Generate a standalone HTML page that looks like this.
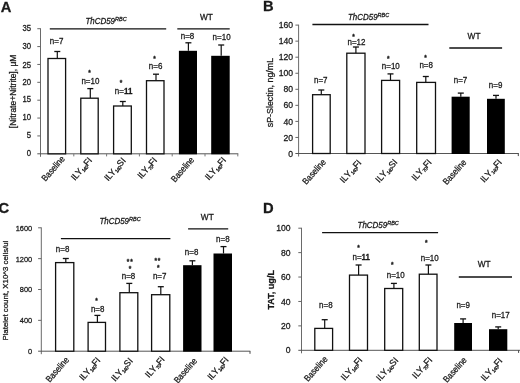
<!DOCTYPE html>
<html><head><meta charset="utf-8"><title>Figure</title>
<style>
html,body{margin:0;padding:0;background:#fff;}
svg{display:block;filter:blur(0.4px);}
text{font-family:"Liberation Sans",sans-serif;fill:#1a1a1a;stroke:#1a1a1a;stroke-width:0.28px;}
</style></head>
<body>
<svg width="520" height="383" viewBox="0 0 520 383">
<rect x="0" y="0" width="520" height="383" fill="#fff"/>
<text transform="translate(0.70 11.70) scale(0.97 1)" text-anchor="start" font-size="15.2" font-weight="bold" fill="#000" stroke="#000" stroke-width="0.5">A</text>
<line x1="40.50" y1="28.31" x2="40.50" y2="156.80" stroke="#6a6a6a" stroke-width="1.0"/>
<line x1="37.30" y1="153.80" x2="238.30" y2="153.80" stroke="#555" stroke-width="1.0"/>
<text transform="translate(31.00 156.45) scale(0.94 1)" text-anchor="end" font-size="8.2">0</text>
<line x1="37.30" y1="135.93" x2="40.50" y2="135.93" stroke="#666" stroke-width="1.0"/>
<text transform="translate(31.00 138.38) scale(0.94 1)" text-anchor="end" font-size="8.2">5</text>
<line x1="37.30" y1="118.06" x2="40.50" y2="118.06" stroke="#666" stroke-width="1.0"/>
<text transform="translate(31.00 119.91) scale(0.94 1)" text-anchor="end" font-size="8.2">10</text>
<line x1="37.30" y1="100.19" x2="40.50" y2="100.19" stroke="#666" stroke-width="1.0"/>
<text transform="translate(31.00 102.29) scale(0.94 1)" text-anchor="end" font-size="8.2">15</text>
<line x1="37.30" y1="82.32" x2="40.50" y2="82.32" stroke="#666" stroke-width="1.0"/>
<text transform="translate(31.00 85.37) scale(0.94 1)" text-anchor="end" font-size="8.2">20</text>
<line x1="37.30" y1="64.45" x2="40.50" y2="64.45" stroke="#666" stroke-width="1.0"/>
<text transform="translate(31.00 67.50) scale(0.94 1)" text-anchor="end" font-size="8.2">25</text>
<line x1="37.30" y1="46.58" x2="40.50" y2="46.58" stroke="#666" stroke-width="1.0"/>
<text transform="translate(31.00 48.83) scale(0.94 1)" text-anchor="end" font-size="8.2">30</text>
<line x1="37.30" y1="28.71" x2="40.50" y2="28.71" stroke="#666" stroke-width="1.0"/>
<text transform="translate(31.00 30.56) scale(0.94 1)" text-anchor="end" font-size="8.2">35</text>
<line x1="73.80" y1="153.80" x2="73.80" y2="156.40" stroke="#777" stroke-width="1.0"/>
<line x1="106.60" y1="153.80" x2="106.60" y2="156.40" stroke="#777" stroke-width="1.0"/>
<line x1="139.40" y1="153.80" x2="139.40" y2="156.40" stroke="#777" stroke-width="1.0"/>
<line x1="172.20" y1="153.80" x2="172.20" y2="156.40" stroke="#777" stroke-width="1.0"/>
<line x1="205.00" y1="153.80" x2="205.00" y2="156.40" stroke="#777" stroke-width="1.0"/>
<line x1="237.80" y1="153.80" x2="237.80" y2="156.40" stroke="#777" stroke-width="1.0"/>
<text transform="translate(15.80 128.20) rotate(-90)" text-anchor="start" font-size="8.5">[Nitrate+Nitrite], μM</text>
<line x1="57.30" y1="58.50" x2="57.30" y2="51.50" stroke="#111" stroke-width="1.2"/>
<line x1="54.30" y1="51.50" x2="60.30" y2="51.50" stroke="#111" stroke-width="1.3"/>
<rect x="48.00" y="58.50" width="17.60" height="95.30" fill="#fff" stroke="#111" stroke-width="1.3"/>
<text transform="translate(65.30 159.20) rotate(-49) scale(0.87 1)" text-anchor="end" font-size="9.0">Baseline</text>
<line x1="90.30" y1="98.20" x2="90.30" y2="88.60" stroke="#111" stroke-width="1.2"/>
<line x1="87.30" y1="88.60" x2="93.30" y2="88.60" stroke="#111" stroke-width="1.3"/>
<rect x="80.80" y="98.20" width="17.40" height="55.60" fill="#fff" stroke="#111" stroke-width="1.3"/>
<text transform="translate(92.50 160.80) rotate(-49) scale(0.96 1)" text-anchor="end" font-size="9.0">ILY<tspan font-size="5.0" letter-spacing="-0.4" dy="1.3">140</tspan><tspan dy="-1.3">FI</tspan></text>
<line x1="122.80" y1="106.00" x2="122.80" y2="101.50" stroke="#111" stroke-width="1.2"/>
<line x1="119.80" y1="101.50" x2="125.80" y2="101.50" stroke="#111" stroke-width="1.3"/>
<rect x="113.60" y="106.00" width="17.70" height="47.80" fill="#fff" stroke="#111" stroke-width="1.3"/>
<text transform="translate(126.20 161.00) rotate(-49) scale(0.96 1)" text-anchor="end" font-size="9.0">ILY<tspan font-size="5.0" letter-spacing="-0.4" dy="1.3">140</tspan><tspan dy="-1.3">SI</tspan></text>
<line x1="156.00" y1="80.70" x2="156.00" y2="74.20" stroke="#111" stroke-width="1.2"/>
<line x1="153.00" y1="74.20" x2="159.00" y2="74.20" stroke="#111" stroke-width="1.3"/>
<rect x="146.50" y="80.70" width="17.50" height="73.10" fill="#fff" stroke="#111" stroke-width="1.3"/>
<text transform="translate(157.60 160.70) rotate(-49) scale(0.96 1)" text-anchor="end" font-size="9.0">ILY<tspan font-size="5.0" letter-spacing="-0.4" dy="1.3">70</tspan><tspan dy="-1.3">FI</tspan></text>
<line x1="188.40" y1="50.80" x2="188.40" y2="42.80" stroke="#111" stroke-width="1.2"/>
<line x1="185.40" y1="42.80" x2="191.40" y2="42.80" stroke="#111" stroke-width="1.3"/>
<rect x="178.90" y="50.80" width="18.10" height="103.50" fill="#000"/>
<text transform="translate(194.70 160.10) rotate(-49) scale(0.87 1)" text-anchor="end" font-size="9.0">Baseline</text>
<line x1="221.20" y1="55.80" x2="221.20" y2="45.00" stroke="#111" stroke-width="1.2"/>
<line x1="218.20" y1="45.00" x2="224.20" y2="45.00" stroke="#111" stroke-width="1.3"/>
<rect x="211.20" y="55.80" width="18.50" height="98.50" fill="#000"/>
<text transform="translate(226.50 160.50) rotate(-49) scale(0.96 1)" text-anchor="end" font-size="9.0">ILY<tspan font-size="5.0" letter-spacing="-0.4" dy="1.3">140</tspan><tspan dy="-1.3">FI</tspan></text>
<text transform="translate(49.80 43.70) scale(0.95 1)" text-anchor="start" font-size="8.4">n=7</text>
<text transform="translate(81.40 83.60) scale(0.95 1)" text-anchor="start" font-size="8.4">n=10</text>
<text transform="translate(89.40 75.20)" text-anchor="middle" font-size="6.5" font-weight="bold">*</text>
<text transform="translate(114.80 93.60) scale(0.95 1)" text-anchor="start" font-size="8.4">n=<tspan font-weight="bold">11</tspan></text>
<text transform="translate(121.00 85.40)" text-anchor="middle" font-size="6.5" font-weight="bold">*</text>
<text transform="translate(148.80 68.90) scale(0.95 1)" text-anchor="start" font-size="8.4">n=6</text>
<text transform="translate(154.40 61.20)" text-anchor="middle" font-size="6.5" font-weight="bold">*</text>
<text transform="translate(180.70 39.20) scale(0.95 1)" text-anchor="start" font-size="8.4">n=8</text>
<text transform="translate(212.60 40.40) scale(0.95 1)" text-anchor="start" font-size="8.4">n=10</text>
<line x1="49.80" y1="28.80" x2="166.20" y2="28.80" stroke="#111" stroke-width="1.3"/>
<line x1="177.30" y1="28.80" x2="229.70" y2="28.80" stroke="#111" stroke-width="1.3"/>
<text transform="translate(85.40 23.50) scale(0.97 1)" text-anchor="start" font-size="8.2" font-style="italic">ThCD59<tspan font-size="5.7" dy="-2.8">RBC</tspan></text>
<text transform="translate(200.00 19.90)" text-anchor="start" font-size="8.3">WT</text>
<text transform="translate(263.00 10.70) scale(0.97 1)" text-anchor="start" font-size="15.2" font-weight="bold" fill="#000" stroke="#000" stroke-width="0.5">B</text>
<line x1="298.60" y1="24.70" x2="298.60" y2="156.50" stroke="#6a6a6a" stroke-width="1.0"/>
<line x1="295.40" y1="153.50" x2="518.80" y2="153.50" stroke="#555" stroke-width="1.0"/>
<text transform="translate(293.00 156.60)" text-anchor="end" font-size="8.6">0</text>
<line x1="295.40" y1="137.45" x2="298.60" y2="137.45" stroke="#666" stroke-width="1.0"/>
<text transform="translate(293.00 140.55)" text-anchor="end" font-size="8.6">20</text>
<line x1="295.40" y1="121.40" x2="298.60" y2="121.40" stroke="#666" stroke-width="1.0"/>
<text transform="translate(293.00 124.50)" text-anchor="end" font-size="8.6">40</text>
<line x1="295.40" y1="105.35" x2="298.60" y2="105.35" stroke="#666" stroke-width="1.0"/>
<text transform="translate(293.00 108.45)" text-anchor="end" font-size="8.6">60</text>
<line x1="295.40" y1="89.30" x2="298.60" y2="89.30" stroke="#666" stroke-width="1.0"/>
<text transform="translate(293.00 92.40)" text-anchor="end" font-size="8.6">80</text>
<line x1="295.40" y1="73.25" x2="298.60" y2="73.25" stroke="#666" stroke-width="1.0"/>
<text transform="translate(293.00 76.35)" text-anchor="end" font-size="8.6">100</text>
<line x1="295.40" y1="57.20" x2="298.60" y2="57.20" stroke="#666" stroke-width="1.0"/>
<text transform="translate(293.00 60.30)" text-anchor="end" font-size="8.6">120</text>
<line x1="295.40" y1="41.15" x2="298.60" y2="41.15" stroke="#666" stroke-width="1.0"/>
<text transform="translate(293.00 44.25)" text-anchor="end" font-size="8.6">140</text>
<line x1="295.40" y1="25.10" x2="298.60" y2="25.10" stroke="#666" stroke-width="1.0"/>
<text transform="translate(293.00 28.20)" text-anchor="end" font-size="8.6">160</text>
<line x1="518.30" y1="153.50" x2="518.30" y2="156.10" stroke="#444" stroke-width="1.0"/>
<text transform="translate(273.20 127.20) rotate(-90)" text-anchor="start" font-size="8.85">sP-Slectin, ng/mL</text>
<line x1="321.30" y1="94.70" x2="321.30" y2="90.00" stroke="#111" stroke-width="1.2"/>
<line x1="318.30" y1="90.00" x2="324.30" y2="90.00" stroke="#111" stroke-width="1.3"/>
<rect x="312.60" y="94.70" width="17.60" height="58.80" fill="#fff" stroke="#111" stroke-width="1.3"/>
<text transform="translate(326.50 162.50) rotate(-48) scale(0.88 1)" text-anchor="end" font-size="9.0">Baseline</text>
<line x1="355.90" y1="53.20" x2="355.90" y2="47.00" stroke="#111" stroke-width="1.2"/>
<line x1="352.90" y1="47.00" x2="358.90" y2="47.00" stroke="#111" stroke-width="1.3"/>
<rect x="346.80" y="53.20" width="18.20" height="100.30" fill="#fff" stroke="#111" stroke-width="1.3"/>
<text transform="translate(362.00 163.20) rotate(-48) scale(0.98 1)" text-anchor="end" font-size="9.0">ILY<tspan font-size="5.0" letter-spacing="-0.4" dy="1.3">140</tspan><tspan dy="-1.3">FI</tspan></text>
<line x1="390.50" y1="80.40" x2="390.50" y2="73.90" stroke="#111" stroke-width="1.2"/>
<line x1="387.50" y1="73.90" x2="393.50" y2="73.90" stroke="#111" stroke-width="1.3"/>
<rect x="381.60" y="80.40" width="18.00" height="73.10" fill="#fff" stroke="#111" stroke-width="1.3"/>
<text transform="translate(398.00 162.50) rotate(-48) scale(0.98 1)" text-anchor="end" font-size="9.0">ILY<tspan font-size="5.0" letter-spacing="-0.4" dy="1.3">140</tspan><tspan dy="-1.3">SI</tspan></text>
<line x1="425.80" y1="82.40" x2="425.80" y2="76.50" stroke="#111" stroke-width="1.2"/>
<line x1="422.80" y1="76.50" x2="428.80" y2="76.50" stroke="#111" stroke-width="1.3"/>
<rect x="416.70" y="82.40" width="18.80" height="71.10" fill="#fff" stroke="#111" stroke-width="1.3"/>
<text transform="translate(432.20 162.60) rotate(-48) scale(0.98 1)" text-anchor="end" font-size="9.0">ILY<tspan font-size="5.0" letter-spacing="-0.4" dy="1.3">70</tspan><tspan dy="-1.3">FI</tspan></text>
<line x1="460.80" y1="96.70" x2="460.80" y2="93.10" stroke="#111" stroke-width="1.2"/>
<line x1="457.80" y1="93.10" x2="463.80" y2="93.10" stroke="#111" stroke-width="1.3"/>
<rect x="451.60" y="96.70" width="18.10" height="57.30" fill="#000"/>
<text transform="translate(467.00 162.80) rotate(-48) scale(0.88 1)" text-anchor="end" font-size="9.0">Baseline</text>
<line x1="496.00" y1="98.80" x2="496.00" y2="95.40" stroke="#111" stroke-width="1.2"/>
<line x1="493.00" y1="95.40" x2="499.00" y2="95.40" stroke="#111" stroke-width="1.3"/>
<rect x="487.00" y="98.80" width="17.80" height="55.20" fill="#000"/>
<text transform="translate(502.50 162.60) rotate(-48) scale(0.98 1)" text-anchor="end" font-size="9.0">ILY<tspan font-size="5.0" letter-spacing="-0.4" dy="1.3">140</tspan><tspan dy="-1.3">FI</tspan></text>
<text transform="translate(314.00 82.70) scale(0.95 1)" text-anchor="start" font-size="8.4">n=7</text>
<text transform="translate(347.50 44.70) scale(0.95 1)" text-anchor="start" font-size="8.4">n=12</text>
<text transform="translate(353.60 38.50)" text-anchor="middle" font-size="6.5" font-weight="bold">*</text>
<text transform="translate(381.80 68.50) scale(0.95 1)" text-anchor="start" font-size="8.4">n=10</text>
<text transform="translate(388.20 60.70)" text-anchor="middle" font-size="6.5" font-weight="bold">*</text>
<text transform="translate(419.40 67.80) scale(0.95 1)" text-anchor="start" font-size="8.4">n=8</text>
<text transform="translate(425.50 60.40)" text-anchor="middle" font-size="6.5" font-weight="bold">*</text>
<text transform="translate(453.70 82.80) scale(0.95 1)" text-anchor="start" font-size="8.4">n=7</text>
<text transform="translate(488.80 88.20) scale(0.95 1)" text-anchor="start" font-size="8.4">n=9</text>
<line x1="312.40" y1="24.50" x2="428.50" y2="24.50" stroke="#111" stroke-width="1.3"/>
<line x1="449.30" y1="48.00" x2="502.10" y2="48.00" stroke="#111" stroke-width="1.3"/>
<text transform="translate(348.00 19.70) scale(0.97 1)" text-anchor="start" font-size="8.2" font-style="italic">ThCD59<tspan font-size="5.7" dy="-2.8">RBC</tspan></text>
<text transform="translate(467.60 38.80)" text-anchor="start" font-size="8.3">WT</text>
<text transform="translate(-1.50 212.70) scale(0.97 1)" text-anchor="start" font-size="15.2" font-weight="bold" fill="#000" stroke="#000" stroke-width="0.5">C</text>
<line x1="41.30" y1="227.40" x2="41.30" y2="354.20" stroke="#6a6a6a" stroke-width="1.0"/>
<line x1="38.10" y1="351.20" x2="250.30" y2="351.20" stroke="#555" stroke-width="1.0"/>
<text transform="translate(32.20 354.08) scale(0.93 1)" text-anchor="end" font-size="8.0">0</text>
<line x1="38.10" y1="320.35" x2="41.30" y2="320.35" stroke="#666" stroke-width="1.0"/>
<text transform="translate(32.20 323.23) scale(0.93 1)" text-anchor="end" font-size="8.0">400</text>
<line x1="38.10" y1="289.50" x2="41.30" y2="289.50" stroke="#666" stroke-width="1.0"/>
<text transform="translate(32.20 292.38) scale(0.93 1)" text-anchor="end" font-size="8.0">800</text>
<line x1="38.10" y1="258.65" x2="41.30" y2="258.65" stroke="#666" stroke-width="1.0"/>
<text transform="translate(32.20 261.53) scale(0.93 1)" text-anchor="end" font-size="8.0">1200</text>
<line x1="38.10" y1="227.80" x2="41.30" y2="227.80" stroke="#666" stroke-width="1.0"/>
<text transform="translate(32.20 230.68) scale(0.93 1)" text-anchor="end" font-size="8.0">1600</text>
<line x1="250.00" y1="351.20" x2="250.00" y2="353.80" stroke="#444" stroke-width="1.0"/>
<text transform="translate(7.80 340.60) rotate(-90)" text-anchor="start" font-size="7.85">Platelet count, X10^3 cells/ul</text>
<line x1="65.80" y1="262.60" x2="65.80" y2="258.50" stroke="#111" stroke-width="1.2"/>
<line x1="62.80" y1="258.50" x2="68.80" y2="258.50" stroke="#111" stroke-width="1.3"/>
<rect x="55.60" y="262.60" width="18.20" height="88.60" fill="#fff" stroke="#111" stroke-width="1.3"/>
<text transform="translate(69.50 360.20) rotate(-49) scale(0.87 1)" text-anchor="end" font-size="9.0">Baseline</text>
<line x1="97.40" y1="322.40" x2="97.40" y2="315.40" stroke="#111" stroke-width="1.2"/>
<line x1="94.40" y1="315.40" x2="100.40" y2="315.40" stroke="#111" stroke-width="1.3"/>
<rect x="88.10" y="322.40" width="17.40" height="28.80" fill="#fff" stroke="#111" stroke-width="1.3"/>
<text transform="translate(100.90 360.70) rotate(-49) scale(0.96 1)" text-anchor="end" font-size="9.0">ILY<tspan font-size="5.0" letter-spacing="-0.4" dy="1.3">140</tspan><tspan dy="-1.3">FI</tspan></text>
<line x1="129.30" y1="292.70" x2="129.30" y2="283.40" stroke="#111" stroke-width="1.2"/>
<line x1="126.30" y1="283.40" x2="132.30" y2="283.40" stroke="#111" stroke-width="1.3"/>
<rect x="119.90" y="292.70" width="17.90" height="58.50" fill="#fff" stroke="#111" stroke-width="1.3"/>
<text transform="translate(133.20 361.30) rotate(-49) scale(0.96 1)" text-anchor="end" font-size="9.0">ILY<tspan font-size="5.0" letter-spacing="-0.4" dy="1.3">140</tspan><tspan dy="-1.3">SI</tspan></text>
<line x1="160.80" y1="294.70" x2="160.80" y2="286.70" stroke="#111" stroke-width="1.2"/>
<line x1="157.80" y1="286.70" x2="163.80" y2="286.70" stroke="#111" stroke-width="1.3"/>
<rect x="151.60" y="294.70" width="18.20" height="56.50" fill="#fff" stroke="#111" stroke-width="1.3"/>
<text transform="translate(165.20 359.70) rotate(-49) scale(0.96 1)" text-anchor="end" font-size="9.0">ILY<tspan font-size="5.0" letter-spacing="-0.4" dy="1.3">70</tspan><tspan dy="-1.3">FI</tspan></text>
<line x1="192.40" y1="265.20" x2="192.40" y2="260.80" stroke="#111" stroke-width="1.2"/>
<line x1="189.40" y1="260.80" x2="195.40" y2="260.80" stroke="#111" stroke-width="1.3"/>
<rect x="183.10" y="265.20" width="18.40" height="86.50" fill="#000"/>
<text transform="translate(197.60 361.20) rotate(-49) scale(0.87 1)" text-anchor="end" font-size="9.0">Baseline</text>
<line x1="223.50" y1="253.50" x2="223.50" y2="246.60" stroke="#111" stroke-width="1.2"/>
<line x1="220.50" y1="246.60" x2="226.50" y2="246.60" stroke="#111" stroke-width="1.3"/>
<rect x="213.50" y="253.50" width="18.50" height="98.20" fill="#000"/>
<text transform="translate(229.00 360.30) rotate(-49) scale(0.96 1)" text-anchor="end" font-size="9.0">ILY<tspan font-size="5.0" letter-spacing="-0.4" dy="1.3">140</tspan><tspan dy="-1.3">FI</tspan></text>
<text transform="translate(55.80 252.20) scale(0.95 1)" text-anchor="start" font-size="8.4">n=8</text>
<text transform="translate(90.90 311.60) scale(0.95 1)" text-anchor="start" font-size="8.4">n=8</text>
<text transform="translate(96.50 302.80)" text-anchor="middle" font-size="6.5" font-weight="bold">*</text>
<text transform="translate(121.70 278.80) scale(0.95 1)" text-anchor="start" font-size="8.4">n=8</text>
<text transform="translate(130.10 270.60)" text-anchor="middle" font-size="6.5" font-weight="bold">*</text>
<text transform="translate(130.20 263.50)" text-anchor="middle" font-size="6.5" font-weight="bold" letter-spacing="0.9">**</text>
<text transform="translate(152.90 278.80) scale(0.95 1)" text-anchor="start" font-size="8.4">n=7</text>
<text transform="translate(158.20 270.20)" text-anchor="middle" font-size="6.5" font-weight="bold">*</text>
<text transform="translate(157.80 262.80)" text-anchor="middle" font-size="6.5" font-weight="bold" letter-spacing="0.9">**</text>
<text transform="translate(184.80 255.00) scale(0.95 1)" text-anchor="start" font-size="8.4">n=8</text>
<text transform="translate(216.10 241.50) scale(0.95 1)" text-anchor="start" font-size="8.4">n=8</text>
<line x1="60.90" y1="238.60" x2="170.40" y2="238.60" stroke="#111" stroke-width="1.3"/>
<line x1="188.10" y1="228.90" x2="228.20" y2="228.90" stroke="#111" stroke-width="1.3"/>
<text transform="translate(99.40 224.00) scale(0.97 1)" text-anchor="start" font-size="8.2" font-style="italic">ThCD59<tspan font-size="5.7" dy="-2.8">RBC</tspan></text>
<text transform="translate(200.80 219.70)" text-anchor="start" font-size="8.3">WT</text>
<text transform="translate(263.10 212.50) scale(0.97 1)" text-anchor="start" font-size="15.2" font-weight="bold" fill="#000" stroke="#000" stroke-width="0.5">D</text>
<line x1="301.50" y1="227.80" x2="301.50" y2="353.30" stroke="#6a6a6a" stroke-width="1.0"/>
<line x1="298.30" y1="350.30" x2="520.00" y2="350.30" stroke="#555" stroke-width="1.0"/>
<text transform="translate(290.50 353.40)" text-anchor="end" font-size="8.6">0</text>
<line x1="298.30" y1="325.88" x2="301.50" y2="325.88" stroke="#666" stroke-width="1.0"/>
<text transform="translate(290.50 328.98)" text-anchor="end" font-size="8.6">20</text>
<line x1="298.30" y1="301.46" x2="301.50" y2="301.46" stroke="#666" stroke-width="1.0"/>
<text transform="translate(290.50 304.56)" text-anchor="end" font-size="8.6">40</text>
<line x1="298.30" y1="277.04" x2="301.50" y2="277.04" stroke="#666" stroke-width="1.0"/>
<text transform="translate(290.50 280.14)" text-anchor="end" font-size="8.6">60</text>
<line x1="298.30" y1="252.62" x2="301.50" y2="252.62" stroke="#666" stroke-width="1.0"/>
<text transform="translate(290.50 255.72)" text-anchor="end" font-size="8.6">80</text>
<line x1="298.30" y1="228.20" x2="301.50" y2="228.20" stroke="#666" stroke-width="1.0"/>
<text transform="translate(290.50 231.30)" text-anchor="end" font-size="8.6">100</text>
<line x1="518.60" y1="350.30" x2="518.60" y2="352.90" stroke="#444" stroke-width="1.0"/>
<text transform="translate(273.80 309.60) rotate(-90)" text-anchor="start" font-size="9.1" font-weight="bold">TAT, ug/L</text>
<line x1="324.70" y1="328.40" x2="324.70" y2="319.70" stroke="#111" stroke-width="1.2"/>
<line x1="321.70" y1="319.70" x2="327.70" y2="319.70" stroke="#111" stroke-width="1.3"/>
<rect x="314.80" y="328.40" width="17.80" height="21.90" fill="#fff" stroke="#111" stroke-width="1.3"/>
<text transform="translate(328.20 359.50) rotate(-48) scale(0.88 1)" text-anchor="end" font-size="9.0">Baseline</text>
<line x1="358.60" y1="275.10" x2="358.60" y2="265.00" stroke="#111" stroke-width="1.2"/>
<line x1="355.60" y1="265.00" x2="361.60" y2="265.00" stroke="#111" stroke-width="1.3"/>
<rect x="349.50" y="275.10" width="18.00" height="75.20" fill="#fff" stroke="#111" stroke-width="1.3"/>
<text transform="translate(363.00 360.50) rotate(-48) scale(0.98 1)" text-anchor="end" font-size="9.0">ILY<tspan font-size="5.0" letter-spacing="-0.4" dy="1.3">140</tspan><tspan dy="-1.3">FI</tspan></text>
<line x1="393.90" y1="288.50" x2="393.90" y2="283.40" stroke="#111" stroke-width="1.2"/>
<line x1="390.90" y1="283.40" x2="396.90" y2="283.40" stroke="#111" stroke-width="1.3"/>
<rect x="384.70" y="288.50" width="18.00" height="61.80" fill="#fff" stroke="#111" stroke-width="1.3"/>
<text transform="translate(398.80 360.70) rotate(-48) scale(0.98 1)" text-anchor="end" font-size="9.0">ILY<tspan font-size="5.0" letter-spacing="-0.4" dy="1.3">140</tspan><tspan dy="-1.3">SI</tspan></text>
<line x1="428.40" y1="274.20" x2="428.40" y2="265.00" stroke="#111" stroke-width="1.2"/>
<line x1="425.40" y1="265.00" x2="431.40" y2="265.00" stroke="#111" stroke-width="1.3"/>
<rect x="419.30" y="274.20" width="17.70" height="76.10" fill="#fff" stroke="#111" stroke-width="1.3"/>
<text transform="translate(432.80 360.50) rotate(-48) scale(0.98 1)" text-anchor="end" font-size="9.0">ILY<tspan font-size="5.0" letter-spacing="-0.4" dy="1.3">70</tspan><tspan dy="-1.3">FI</tspan></text>
<line x1="463.10" y1="323.00" x2="463.10" y2="318.90" stroke="#111" stroke-width="1.2"/>
<line x1="460.10" y1="318.90" x2="466.10" y2="318.90" stroke="#111" stroke-width="1.3"/>
<rect x="454.20" y="323.00" width="17.80" height="27.80" fill="#000"/>
<text transform="translate(467.30 360.50) rotate(-48) scale(0.88 1)" text-anchor="end" font-size="9.0">Baseline</text>
<line x1="498.20" y1="329.20" x2="498.20" y2="326.90" stroke="#111" stroke-width="1.2"/>
<line x1="495.20" y1="326.90" x2="501.20" y2="326.90" stroke="#111" stroke-width="1.3"/>
<rect x="489.00" y="329.20" width="18.30" height="21.60" fill="#000"/>
<text transform="translate(503.00 361.20) rotate(-48) scale(0.98 1)" text-anchor="end" font-size="9.0">ILY<tspan font-size="5.0" letter-spacing="-0.4" dy="1.3">140</tspan><tspan dy="-1.3">FI</tspan></text>
<text transform="translate(319.10 308.20) scale(0.95 1)" text-anchor="start" font-size="8.4">n=8</text>
<text transform="translate(352.50 260.00) scale(0.95 1)" text-anchor="start" font-size="8.4">n=<tspan font-weight="bold">11</tspan></text>
<text transform="translate(358.60 250.20)" text-anchor="middle" font-size="6.5" font-weight="bold">*</text>
<text transform="translate(386.70 277.70) scale(0.95 1)" text-anchor="start" font-size="8.4">n=10</text>
<text transform="translate(392.30 266.80)" text-anchor="middle" font-size="6.5" font-weight="bold">*</text>
<text transform="translate(420.70 260.50) scale(0.95 1)" text-anchor="start" font-size="8.4">n=10</text>
<text transform="translate(426.30 244.50)" text-anchor="middle" font-size="6.5" font-weight="bold">*</text>
<text transform="translate(456.40 308.30) scale(0.95 1)" text-anchor="start" font-size="8.4">n=9</text>
<text transform="translate(491.70 317.60) scale(0.95 1)" text-anchor="start" font-size="8.4">n=17</text>
<line x1="322.10" y1="232.60" x2="438.10" y2="232.60" stroke="#111" stroke-width="1.3"/>
<line x1="458.80" y1="277.00" x2="512.00" y2="277.00" stroke="#111" stroke-width="1.3"/>
<text transform="translate(357.60 227.80) scale(0.97 1)" text-anchor="start" font-size="8.2" font-style="italic">ThCD59<tspan font-size="5.7" dy="-2.8">RBC</tspan></text>
<text transform="translate(477.70 267.40)" text-anchor="start" font-size="8.3">WT</text>
</svg>
</body></html>
